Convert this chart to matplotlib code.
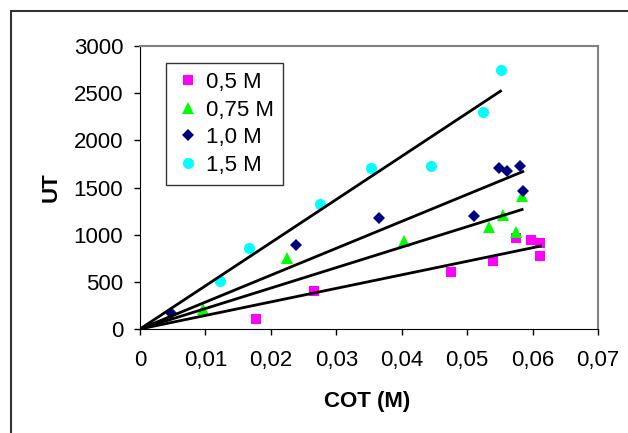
import matplotlib
matplotlib.use('Agg')

import matplotlib.pyplot as plt
import numpy as np
from matplotlib.patches import Rectangle

plt.rcParams['font.family'] = ['Liberation Sans', 'DejaVu Sans']

# data
x_05 = [0.0178, 0.0266, 0.0476, 0.0539, 0.0574, 0.0598, 0.0611, 0.0612]
y_05 = [109, 399, 604, 724, 960, 942, 911, 777]

x_075 = [0.0096, 0.0224, 0.0404, 0.0533, 0.0555, 0.0574, 0.0584]
y_075 = [212, 752, 935, 1076, 1211, 1027, 1405]

x_10 = [0.0048, 0.0239, 0.0366, 0.0510, 0.0549, 0.0561, 0.0581, 0.0585]
y_10 = [169, 886, 1174, 1193, 1705, 1670, 1723, 1465]

x_15 = [0.0122, 0.0166, 0.0275, 0.0353, 0.0444, 0.0525, 0.0551]
y_15 = [512, 858, 1320, 1712, 1726, 2305, 2750]

labels = ["0,5 M", "0,75 M", "1,0 M", "1,5 M"]
xticks = [0, 0.01, 0.02, 0.03, 0.04, 0.05, 0.06, 0.07]
xtick_labels = ["0", "0,01", "0,02", "0,03", "0,04", "0,05", "0,06", "0,07"]
yticks = [0, 500, 1000, 1500, 2000, 2500, 3000]

fig = plt.figure(figsize=(6.28, 4.33), dpi=100)
ax = fig.add_axes([140 / 628, 104 / 433, 458 / 628, 283 / 433])

series = [
    (x_05, y_05, 's', '#FF00FF', 7.5),
    (x_075, y_075, '^', '#00FF00', 8.5),
    (x_10, y_10, 'D', '#000080', 6.5),
    (x_15, y_15, 'o', '#00FFFF', 8),
]

for (xs, ys, m, c, ms), lab in zip(series, labels):
    xs = np.array(xs)
    ys = np.array(ys)
    ax.plot(xs, ys, linestyle='none', marker=m, color=c, markersize=ms,
            markeredgewidth=0, label=lab, zorder=3)
    # linear trend through origin
    k = np.sum(xs * ys) / np.sum(xs * xs)
    xx = np.array([0, xs.max()])
    ax.plot(xx, k * xx, color='black', lw=2, zorder=4)

ax.set_xlim(0, 0.07)
ax.set_ylim(0, 3000)
ax.set_xticks(xticks)
ax.set_xticklabels(xtick_labels)
ax.set_yticks(yticks)
ax.tick_params(axis='both', labelsize=16, length=4, width=1, direction='out')
ax.tick_params(axis='x', pad=11)
ax.tick_params(axis='y', pad=8)

for s in ['top', 'right']:
    ax.spines[s].set_color('#808080')
    ax.spines[s].set_linewidth(1.5)
ax.spines['left'].set_color('black')
ax.spines['bottom'].set_color('black')

ax.set_xlabel("COT (M)", fontsize=16, fontweight='bold', va='center')
ax.set_ylabel("UT", fontsize=16, fontweight='bold', va='center')
ax.xaxis.set_label_coords(0.496, -0.257)
ax.yaxis.set_label_coords(-0.194, 0.5)

leg = ax.legend(loc='upper left', bbox_to_anchor=(0.057, 0.94), borderaxespad=0,
                fontsize=16, frameon=True, fancybox=False, handletextpad=0.2,
                handlelength=1.2, labelspacing=0.3, borderpad=0.4)
leg.get_frame().set_edgecolor('black')
leg.get_frame().set_linewidth(1)

# outer chart border
fig.patches.append(Rectangle((10.5 / 628, -0.1), 2, (433 - 11) / 433 + 0.1,
                             transform=fig.transFigure, fill=False,
                             edgecolor='#333333', lw=1.5))

fig.savefig('out.png', dpi=100)
